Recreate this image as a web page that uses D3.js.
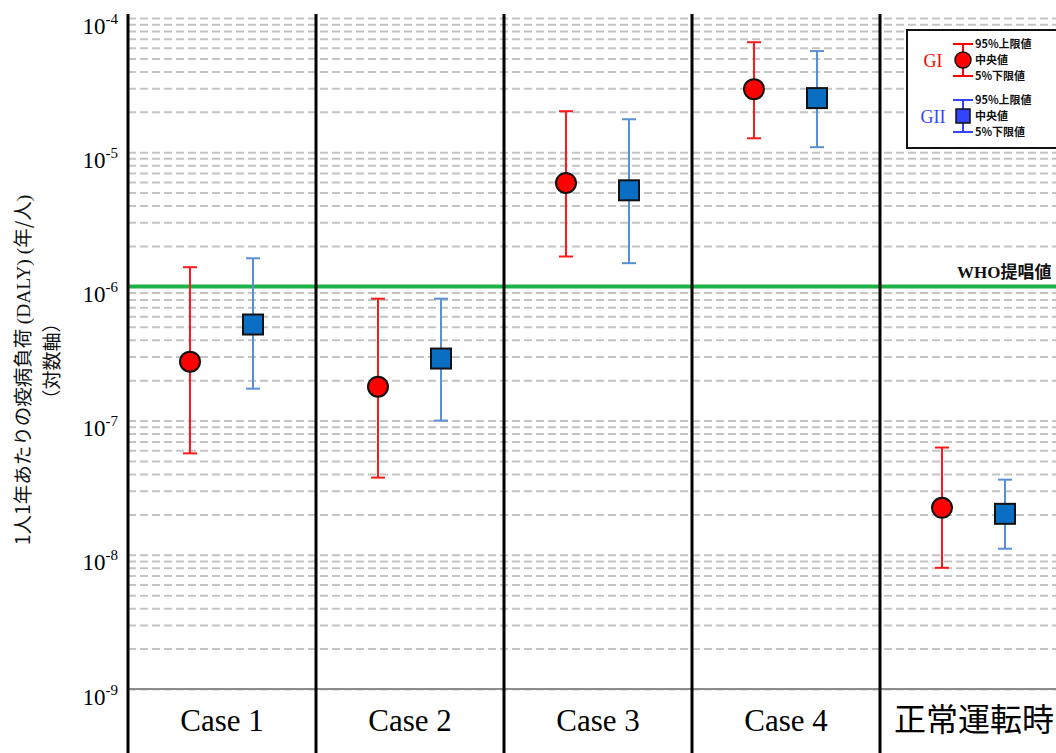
<!DOCTYPE html>
<html>
<head>
<meta charset="utf-8">
<script src="https://cdn.jsdelivr.net/npm/d3@7"></script>
<style>
  body { margin: 0; background: #fff; }
  svg { display: block; }
</style>
</head>
<body>
<div id="chart"></div>
<script>
// Categories and series
const categories = ['Case 1', 'Case 2', 'Case 3', 'Case 4', '正常運転時'];
const seriesNames = ['GI', 'GII'];

// Median, upper 95%, lower 5% values per category (DALY per person per year)
const giMedian = [2.75e-7, 1.79e-7, 5.9e-6, 2.95e-5, 2.24e-8];
const giUpper  = [1.39e-6, 8.1e-7, 2.02e-5, 6.6e-5, 6.3e-8];
const giLower  = [5.7e-8, 3.76e-8, 1.67e-6, 1.27e-5, 8.0e-9];

const giiMedian = [5.2e-7, 2.9e-7, 5.2e-6, 2.53e-5, 2.02e-8];
const giiUpper  = [1.62e-6, 8.1e-7, 1.76e-5, 5.67e-5, 3.63e-8];
const giiLower  = [1.73e-7, 1.0e-7, 1.49e-6, 1.09e-5, 1.11e-8];

const whoValue = 1e-6;
const decadeTicks = [1e-9, 1e-8, 1e-7, 1e-6, 1e-5, 1e-4];
const legendLabels = ['95%上限値', '中央値', '5%下限値'];

const w = 1056;
const h = 753;
const margin = { top: 18, left: 128, bottom: 64 };
const catWidth = 188;

const svg = d3.select('#chart')
  .append('svg')
  .attr('width', w)
  .attr('height', h);

// Scales
const x = d3.scaleBand()
  .domain(categories)
  .range([margin.left, margin.left + catWidth * categories.length])
  .padding(0);

const y = d3.scaleLog()
  .domain([1e-9, 1e-4])
  .range([h - margin.bottom, margin.top]);

const offset = { GI: -32, GII: 31 };
const right = x.range()[1];

// Grid lines (dashed, every minor tick)
const grid = d3.axisLeft(y)
  .tickValues(y.ticks().filter(d => d < 1e-4 * 1.01))
  .tickSize(-(right - margin.left))
  .tickFormat('');

svg.append('g')
  .attr('class', 'grid')
  .attr('transform', `translate(${margin.left},0)`)
  .call(grid)
  .call(g => g.select('.domain').remove());

svg.selectAll('.grid .tick line')
  .attr('stroke', '#c4c4c4')
  .attr('stroke-width', 2)
  .attr('stroke-dasharray', '8,4');

// bottom axis line at 10^-9
svg.append('line')
  .attr('x1', margin.left).attr('x2', right)
  .attr('y1', y(1e-9)).attr('y2', y(1e-9))
  .attr('stroke', '#8c8c8c')
  .attr('stroke-width', 2);

// Y tick labels 10^n
const yAxis = d3.axisLeft(y)
  .tickValues(decadeTicks)
  .tickSize(0)
  .tickPadding(10)
  .tickFormat('');

svg.append('g')
  .attr('class', 'y-axis')
  .attr('transform', `translate(${margin.left},0)`)
  .call(yAxis)
  .call(g => g.select('.domain').remove())
  .attr('font-size', null)
  .attr('font-family', null);

svg.selectAll('.y-axis .tick text')
  .style('font-family', '"Liberation Serif", serif')
  .style('font-size', '23px')
  .attr('fill', '#000')
  .attr('x', -10)
  .attr('dy', null)
  .attr('y', 15)
  .each(function (d) {
    const t = d3.select(this);
    t.text(null);
    t.append('tspan').text('10');
    t.append('tspan')
      .style('font-size', '15px')
      .attr('dy', -10)
      .text(Math.round(Math.log10(d)));
  });

// WHO line
svg.append('line')
  .attr('x1', margin.left).attr('x2', w)
  .attr('y1', y(whoValue)).attr('y2', y(whoValue))
  .attr('stroke', '#1fb24a')
  .attr('stroke-width', 4);

svg.append('text')
  .attr('x', 957)
  .attr('y', y(whoValue) - 8)
  .attr('font-family', '"Liberation Serif", "Noto Sans CJK JP", serif')
  .attr('font-weight', 'bold')
  .attr('font-size', 17)
  .attr('fill', '#111')
  .text('WHO提唱値');

// Category separators
const seps = categories.map(c => x(c)).concat([right]);
svg.selectAll('.sep')
  .data(seps)
  .join('line')
  .attr('class', 'sep')
  .attr('x1', d => d).attr('x2', d => d)
  .attr('y1', 14).attr('y2', h)
  .attr('stroke', '#000')
  .attr('stroke-width', 3);

// Category labels
svg.selectAll('.cat')
  .data(categories)
  .join('text')
  .attr('class', 'cat')
  .attr('x', d => x(d) + x.bandwidth() / 2)
  .attr('y', 731)
  .attr('text-anchor', 'middle')
  .attr('font-family', d => /Case/.test(d) ? '"Liberation Serif", serif' : '"Noto Sans CJK JP", sans-serif')
  .attr('font-size', d => /Case/.test(d) ? 31 : 32)
  .attr('fill', '#000')
  .text(d => d);

// Series data built from arrays
const series = [
  { name: 'GI', median: giMedian, upper: giUpper, lower: giLower, line: '#ff1a1a', fill: '#ff0000' },
  { name: 'GII', median: giiMedian, upper: giiUpper, lower: giiLower, line: '#5b8fd3', fill: '#0a6fc2' }
];

series.forEach(s => {
  const pts = categories.map((c, i) => ({
    cx: x(c) + x.bandwidth() / 2 + offset[s.name],
    m: s.median[i], hi: s.upper[i], lo: s.lower[i]
  }));
  const g = svg.append('g').attr('class', 'series-' + s.name);

  g.selectAll('.bar')
    .data(pts)
    .join('line')
    .attr('x1', d => d.cx).attr('x2', d => d.cx)
    .attr('y1', d => y(d.hi)).attr('y2', d => y(d.lo))
    .attr('stroke', s.line)
    .attr('stroke-width', 2);

  ['hi', 'lo'].forEach(k => {
    g.selectAll('.cap-' + k)
      .data(pts)
      .join('line')
      .attr('x1', d => d.cx - 7).attr('x2', d => d.cx + 7)
      .attr('y1', d => y(d[k])).attr('y2', d => y(d[k]))
      .attr('stroke', s.line)
      .attr('stroke-width', 2);
  });

  if (s.name === 'GI') {
    g.selectAll('.pt')
      .data(pts)
      .join('circle')
      .attr('cx', d => d.cx)
      .attr('cy', d => y(d.m))
      .attr('r', 10)
      .attr('fill', s.fill)
      .attr('stroke', '#111')
      .attr('stroke-width', 2);
  } else {
    g.selectAll('.pt')
      .data(pts)
      .join('rect')
      .attr('x', d => d.cx - 10)
      .attr('y', d => y(d.m) - 10)
      .attr('width', 20)
      .attr('height', 20)
      .attr('fill', s.fill)
      .attr('stroke', '#111')
      .attr('stroke-width', 2);
  }
});

// Legend
const lg = svg.append('g').attr('transform', 'translate(907,30)');
lg.append('rect')
  .attr('width', 170).attr('height', 118)
  .attr('fill', '#fff')
  .attr('stroke', '#111')
  .attr('stroke-width', 2);

const legendItems = [
  { name: 'GI', color: '#ff0000', top: 14, marker: 'circle' },
  { name: 'GII', color: '#3344ff', top: 70, marker: 'rect' }
];

legendItems.forEach(item => {
  const g = lg.append('g').attr('transform', `translate(0,${item.top})`);
  const mx = 56;
  g.append('text')
    .attr('x', 26).attr('y', 23)
    .attr('text-anchor', 'middle')
    .attr('font-family', '"Liberation Serif", serif')
    .attr('font-size', 18)
    .attr('fill', item.color)
    .text(item.name);
  g.append('line').attr('x1', mx).attr('x2', mx).attr('y1', 0).attr('y2', 32)
    .attr('stroke', item.color).attr('stroke-width', 2);
  [0, 32].forEach(yy => g.append('line')
    .attr('x1', mx - 10).attr('x2', mx + 10).attr('y1', yy).attr('y2', yy)
    .attr('stroke', item.color).attr('stroke-width', 2));
  if (item.marker === 'circle') {
    g.append('circle').attr('cx', mx).attr('cy', 16).attr('r', 8)
      .attr('fill', item.color).attr('stroke', '#111').attr('stroke-width', 1.5);
  } else {
    g.append('rect').attr('x', mx - 7).attr('y', 9).attr('width', 14).attr('height', 14)
      .attr('fill', item.color).attr('stroke', '#111').attr('stroke-width', 1.5);
  }
  g.selectAll('.ll')
    .data(legendLabels)
    .join('text')
    .attr('x', mx + 12)
    .attr('y', (d, i) => i * 16 + 4)
    .attr('font-family', '"Noto Sans CJK JP", sans-serif')
    .attr('font-weight', 'bold')
    .attr('font-size', 11)
    .attr('fill', '#111')
    .text(d => d);
});

// Y axis title
const title = svg.append('text')
  .attr('transform', 'translate(30,370) rotate(-90)')
  .attr('text-anchor', 'middle')
  .attr('font-family', '"Noto Sans CJK JP", sans-serif')
  .attr('font-size', 19.5)
  .attr('fill', '#111');
title.append('tspan').text('1人1年あたりの疫病負荷 ');
title.append('tspan').attr('font-family', '"Liberation Serif", serif').text('(DALY) (');
title.append('tspan').text('年/人');
title.append('tspan').attr('font-family', '"Liberation Serif", serif').text(')');

svg.append('text')
  .attr('transform', 'translate(59,361) rotate(-90)')
  .attr('text-anchor', 'middle')
  .attr('font-family', '"Noto Sans CJK JP", sans-serif')
  .attr('font-size', 19)
  .attr('fill', '#111')
  .text('（対数軸）');
</script>
</body>
</html>
